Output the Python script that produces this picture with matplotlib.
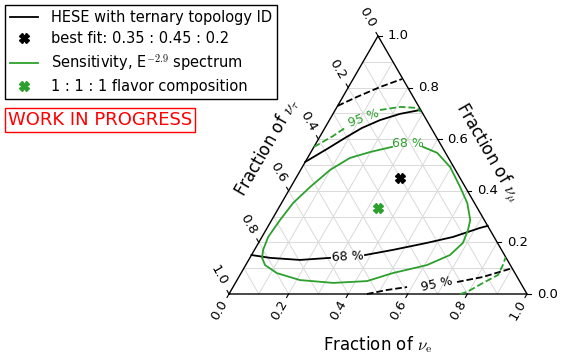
import numpy as np
import matplotlib
matplotlib.use("Agg")
import matplotlib.pyplot as plt
from matplotlib.lines import Line2D

plt.rcParams["mathtext.fontset"] = "cm"

H = np.sqrt(3) / 2

# flavor fractions as (f_e, f_mu); f_tau = 1 - f_e - f_mu
# HESE ternary topology ID, 68 % contour (two branches)
hese68_up_e = [0.0, 0.048, 0.087, 0.124, 0.170, 0.225, 0.285]
hese68_up_mu = [0.512, 0.562, 0.605, 0.643, 0.674, 0.698, 0.713]
hese68_lo_e_a = [0.0, 0.068, 0.172, 0.269]
hese68_lo_mu_a = [0.151, 0.140, 0.132, 0.140]
hese68_lo_e_b = [0.381, 0.465, 0.565, 0.641, 0.714, 0.736]
hese68_lo_mu_b = [0.151, 0.171, 0.198, 0.221, 0.256, 0.264]
# HESE 95 % contour
hese95_up_e = [0.0, 0.048, 0.106, 0.164]
hese95_up_mu = [0.729, 0.764, 0.802, 0.833]
hese95_lo_e_a = [0.463, 0.522, 0.584]
hese95_lo_mu_a = [0.0, 0.0155, 0.027]
hese95_lo_e_b = [0.742, 0.819, 0.900]
hese95_lo_mu_b = [0.0465, 0.066, 0.100]

# sensitivity, E^-2.9 spectrum, 68 % (closed) and 95 %
sens68_e = [0.366, 0.425, 0.496, 0.568, 0.623, 0.666, 0.678, 0.686, 0.666,
            0.608, 0.509, 0.438, 0.328, 0.211, 0.120, 0.065, 0.041, 0.029,
            0.021, 0.028, 0.039, 0.065, 0.099, 0.142, 0.198, 0.262]
sens68_mu = [0.570, 0.547, 0.492, 0.415, 0.353, 0.287, 0.248, 0.198, 0.151,
             0.112, 0.081, 0.050, 0.043, 0.054, 0.081, 0.112, 0.140, 0.171,
             0.221, 0.287, 0.353, 0.415, 0.481, 0.527, 0.550, 0.570]
sens95_up_e_a = [0.0, 0.043, 0.067]
sens95_up_mu_a = [0.570, 0.612, 0.643]
sens95_up_e_b = [0.150, 0.212, 0.271, 0.291]
sens95_up_mu_b = [0.713, 0.725, 0.721, 0.705]
sens95_lo_e = [0.775, 0.795, 0.831, 0.866, 0.863, 0.857]
sens95_lo_mu = [0.0, 0.008, 0.043, 0.074, 0.112, 0.143]

best_fit = (0.35, 0.45)
flavor_111 = (1 / 3, 1 / 3)

ticks = [0.0, 0.2, 0.4, 0.6, 0.8, 1.0]
grid_vals = np.arange(1, 10) / 10

GREEN = "tab:green"


def tern(e, mu):
    e = np.asarray(e, dtype=float)
    mu = np.asarray(mu, dtype=float)
    return e + mu / 2, mu * H


fig = plt.figure(figsize=(5.65, 3.6), dpi=100)
ax = fig.add_axes([0, 0, 1, 1])
S = 298.0  # pixels per unit side
ax.set_xlim(-229 / S, (565 - 229) / S)
ax.set_ylim((294 - 360) / S, 294 / S)
ax.axis("off")
px = 1 / S

# grid
for v in grid_vals:
    ax.plot(*tern([0, 1 - v], [v, v]), color="0.85", lw=0.7, zorder=1)
    ax.plot(*tern([v, v], [0, 1 - v]), color="0.85", lw=0.7, zorder=1)
    ax.plot(*tern([1 - v, 0], [0, 1 - v]), color="0.85", lw=0.7, zorder=1)

# boundary
ax.plot(*tern([0, 1, 0, 0], [0, 0, 1, 0]), color="black", lw=1.0, zorder=3)

# ticks and tick labels
dl = np.array([-0.5, H])   # left axis (tau), outward
db = np.array([-0.5, -H])  # bottom axis (e)
for t in ticks:
    p = np.array(tern(t, 0))
    ax.plot(*zip(p, p + db * 4 * px), color="black", lw=0.8)
    q = p + db * 19 * px
    ax.text(q[0], q[1], "%.1f" % t, fontsize=9.5, rotation=60,
            ha="center", va="center", rotation_mode="anchor")
    p = np.array(tern(1 - t, t))
    ax.plot(*zip(p, p + np.array([4 * px, 0])), color="black", lw=0.8)
    ax.text(p[0] + 10 * px, p[1], "%.1f" % t, fontsize=9.5,
            ha="left", va="center")
    p = np.array(tern(0, 1 - t))
    ax.plot(*zip(p, p + dl * 4 * px), color="black", lw=0.8)
    q = p + dl * 21 * px
    ax.text(q[0], q[1], "%.1f" % t, fontsize=9.5, rotation=-60,
            ha="center", va="center", rotation_mode="anchor")

# axis labels
ax.text(0.5, (294 - 345) / S, r"Fraction of $\nu_\mathrm{e}$", fontsize=12,
        ha="center", va="center")
ax.text((488 - 229) / S, (294 - 152) / S, r"Fraction of $\nu_\mu$",
        fontsize=12, rotation=-60, ha="center", va="center",
        rotation_mode="anchor")
ax.text((267 - 229) / S, (294 - 147) / S, r"Fraction of $\nu_\tau$",
        fontsize=12, rotation=60, ha="center", va="center",
        rotation_mode="anchor")

# HESE contours
lw = 1.3
ax.plot(*tern(hese68_up_e, hese68_up_mu), color="black", lw=lw, zorder=4)
ax.plot(*tern(hese68_lo_e_a, hese68_lo_mu_a), color="black", lw=lw, zorder=4)
ax.plot(*tern(hese68_lo_e_b, hese68_lo_mu_b), color="black", lw=lw, zorder=4)
ax.plot(*tern(hese95_up_e, hese95_up_mu), color="black", lw=lw, ls="--", zorder=4)
ax.plot(*tern(hese95_lo_e_a, hese95_lo_mu_a), color="black", lw=lw, ls="--", zorder=4)
ax.plot(*tern(hese95_lo_e_b, hese95_lo_mu_b), color="black", lw=lw, ls="--", zorder=4)
ax.text(*tern(0.328, 0.143), "68 %", fontsize=9, rotation=3,
        ha="center", va="center", zorder=5)
ax.text(*tern(0.679, 0.039), "95 %", fontsize=9, rotation=12,
        ha="center", va="center", zorder=5)

# sensitivity contours
ax.plot(*tern(sens68_e, sens68_mu), color=GREEN, lw=lw, zorder=4)
ax.plot(*tern(sens95_up_e_a, sens95_up_mu_a), color=GREEN, lw=lw, ls="--", zorder=4)
ax.plot(*tern(sens95_up_e_b, sens95_up_mu_b), color=GREEN, lw=lw, ls="--", zorder=4)
ax.plot(*tern(sens95_lo_e, sens95_lo_mu), color=GREEN, lw=lw, ls="--", zorder=4)
ax.text(*tern(0.308, 0.585), "68 %", fontsize=9, color=GREEN,
        ha="center", va="center", zorder=5)
ax.text(*tern(0.112, 0.682), "95 %", fontsize=9, color=GREEN, rotation=20,
        ha="center", va="center", zorder=5)

# markers
ms = 6.5
ax.plot(*tern(*best_fit), marker="X", color="black", ms=ms, ls="none", zorder=6)
ax.plot(*tern(*flavor_111), marker="X", color=GREEN, ms=ms, ls="none", zorder=6)

handles = [
    Line2D([], [], color="black", lw=lw),
    Line2D([], [], color="black", marker="X", ms=ms, ls="none"),
    Line2D([], [], color=GREEN, lw=lw),
    Line2D([], [], color=GREEN, marker="X", ms=ms, ls="none"),
]
labels = [
    "HESE with ternary topology ID",
    "best fit: 0.35 : 0.45 : 0.2",
    r"Sensitivity, E$^{-2.9}$ spectrum",
    "1 : 1 : 1 flavor composition",
]
leg = ax.legend(handles, labels, loc="upper left",
                bbox_to_anchor=(5 / 565, 1 - 5 / 360),
                bbox_transform=fig.transFigure, borderaxespad=0,
                fancybox=False, edgecolor="black", framealpha=1,
                fontsize=10.5, handlelength=1.9, handletextpad=0.9,
                labelspacing=0.42, borderpad=0.35)
leg.get_frame().set_linewidth(1.0)

fig.text(100 / 565, 1 - 120 / 360, "WORK IN PROGRESS", color="red",
         fontsize=13, ha="center", va="center",
         bbox=dict(boxstyle="square,pad=0.15", fc="white", ec="red", lw=1))

fig.savefig("out.png", dpi=100)
